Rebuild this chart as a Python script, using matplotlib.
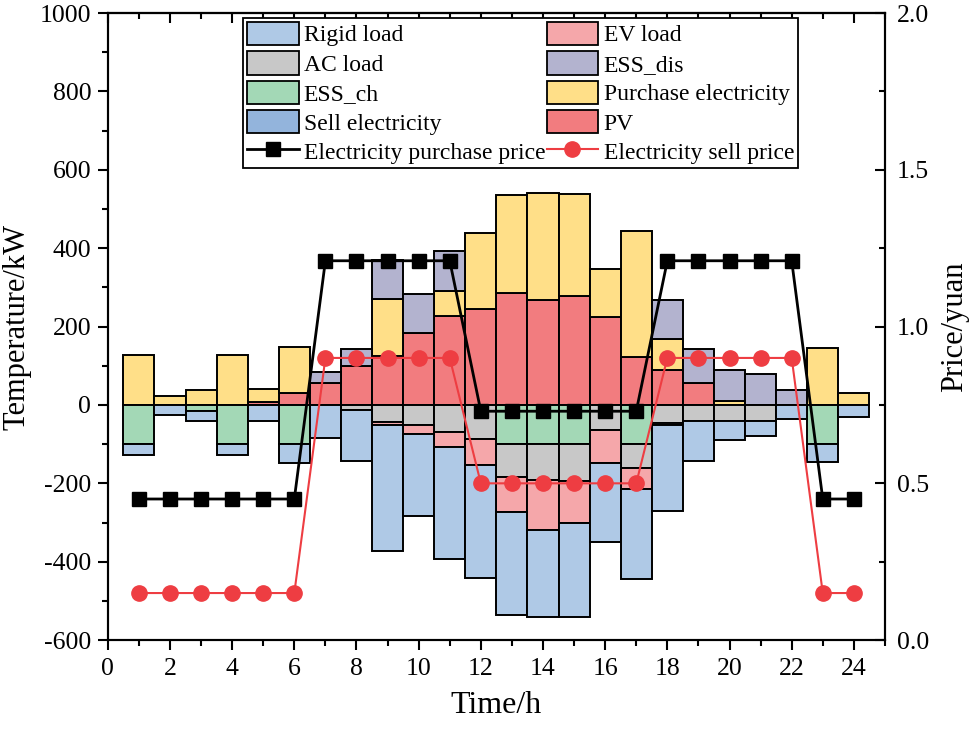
import matplotlib
matplotlib.use("Agg")
import matplotlib.pyplot as plt
import numpy as np
from matplotlib.ticker import MultipleLocator, FormatStrFormatter
from matplotlib.patches import Patch
from matplotlib.lines import Line2D

plt.rcParams['font.family'] = ['Liberation Serif', 'DejaVu Serif']
plt.rcParams['axes.unicode_minus'] = False

hours = np.arange(1, 25)

# supply side (positive)
pv       = [0, 0, 0, 0, 8, 31, 56, 99, 126, 183, 226, 244, 285, 268, 279, 224, 122, 90, 56, 0, 0, 0, 0, 0]
purchase = [127, 24, 38, 127, 32, 116, 0, 0, 145, 0, 64, 194, 250, 272, 260, 124, 321, 79, 0, 11, 0, 0, 146, 30]
ess_dis  = [0, 0, 0, 0, 0, 0, 28, 43, 98, 101, 103, 0, 0, 0, 0, 0, 0, 100, 86, 77, 78, 37, 0, 0]

# demand side (negative)
ess_ch = [100, 0, 15, 100, 0, 100, 0, 0, 0, 0, 0, 0, 100, 100, 100, 0, 100, 0, 0, 0, 0, 0, 100, 0]
ac     = [0, 0, 0, 0, 0, 0, 0, 12, 44, 50, 70, 88, 83, 91, 93, 65, 60, 45, 41, 40, 40, 0, 0, 0]
ev     = [0, 0, 0, 0, 0, 0, 0, 0, 8, 23, 37, 66, 90, 128, 109, 83, 54, 6, 0, 0, 0, 0, 0, 0]
rigid  = [28, 25, 25, 28, 40, 48, 84, 131, 321, 211, 285, 287, 263, 222, 238, 202, 231, 220, 103, 50, 40, 37, 46, 30]
sell   = [0] * 24

buy_price  = [0.45] * 6 + [1.21] * 5 + [0.73] * 6 + [1.21] * 5 + [0.45] * 2
sell_price = [0.15] * 6 + [0.9] * 5 + [0.5] * 6 + [0.9] * 5 + [0.15] * 2

c_rigid = '#AFC9E6'
c_ac = '#C8C8C8'
c_essch = '#A3D8B6'
c_sell = '#93B4DC'
c_ev = '#F5A7AA'
c_essdis = '#B3B3CF'
c_buy = '#FFDF88'
c_pv = '#F27C7F'
c_red = '#EE3D42'

fig = plt.figure(figsize=(9.8, 7.29), dpi=100)
ax = fig.add_axes([0.110, 0.122, 0.793, 0.860])

bw = dict(width=1.0, edgecolor='black', linewidth=1.4)

# positive stack
bottom = np.zeros(24)
for vals, col in [(pv, c_pv), (purchase, c_buy), (ess_dis, c_essdis)]:
    v = np.array(vals, float)
    m = v > 0
    ax.bar(hours[m], v[m], bottom=bottom[m], color=col, **bw)
    bottom += v

# negative stack
bottom = np.zeros(24)
for vals, col in [(ess_ch, c_essch), (ac, c_ac), (ev, c_ev), (rigid, c_rigid), (sell, c_sell)]:
    v = -np.array(vals, float)
    m = v < 0
    ax.bar(hours[m], v[m], bottom=bottom[m], color=col, **bw)
    bottom += v

ax.set_xlim(0, 25)
ax.set_ylim(-600, 1000)
ax.set_xticks(np.arange(0, 25, 2))
ax.xaxis.set_minor_locator(MultipleLocator(1))
ax.set_yticks(np.arange(-600, 1001, 200))
ax.yaxis.set_minor_locator(MultipleLocator(100))
ax.tick_params(which='both', direction='out', labelsize=18.5, width=1.5)
ax.tick_params(which='major', length=7)
ax.tick_params(which='minor', length=4)
ax.tick_params(axis='x', pad=6)
ax.tick_params(axis='y', pad=5)
ax.set_xlabel('Time/h', fontsize=23, labelpad=8)
ax.set_ylabel('Temperature/kW', fontsize=22, labelpad=6)
for s in ax.spines.values():
    s.set_linewidth(1.5)

top = ax.secondary_xaxis('top')
top.set_xticks(np.arange(0, 25, 2))
top.xaxis.set_minor_locator(MultipleLocator(1))
top.tick_params(which='both', direction='in', labeltop=False, width=1.5)
top.tick_params(which='major', length=7)
top.tick_params(which='minor', length=4)
top.spines['top'].set_linewidth(1.5)

ax2 = ax.twinx()
ax2.plot(hours, buy_price, color='black', lw=2, marker='s', ms=9.5)
ax2.plot(hours, sell_price, color=c_red, lw=1.5, marker='o', ms=11,
         markeredgecolor=c_red)
ax2.set_ylim(0, 2.0)
ax2.yaxis.set_major_locator(MultipleLocator(0.5))
ax2.yaxis.set_minor_locator(MultipleLocator(0.25))
ax2.yaxis.set_major_formatter(FormatStrFormatter('%.1f'))
ax2.tick_params(which='both', direction='in', labelsize=18.5, width=1.5, pad=8.5)
ax2.tick_params(which='major', length=7)
ax2.tick_params(which='minor', length=4)
ax2.set_ylabel('Price/yuan', fontsize=22, labelpad=8)
for s in ax2.spines.values():
    s.set_linewidth(1.5)

def box(c):
    return Patch(facecolor=c, edgecolor='black', linewidth=1.3)

handles = [box(c_rigid), box(c_ac), box(c_essch), box(c_sell),
           Line2D([], [], color='black', lw=2, marker='s', ms=9.5),
           box(c_ev), box(c_essdis), box(c_buy), box(c_pv),
           Line2D([], [], color=c_red, lw=1.5, marker='o', ms=11)]
labels = ['Rigid load', 'AC load', 'ESS_ch', 'Sell electricity',
          'Electricity purchase price', 'EV load', 'ESS_dis',
          'Purchase electricity', 'PV', 'Electricity sell price']
leg = ax2.legend(handles, labels, ncol=2, loc='upper left',
                 bbox_to_anchor=(0.174, 0.992), fontsize=17, frameon=True,
                 fancybox=False, edgecolor='black', framealpha=1,
                 handlelength=2.2, handleheight=1.15, handletextpad=0.22,
                 labelspacing=0.2, columnspacing=0.05, borderpad=0.15,
                 borderaxespad=0)
leg.get_frame().set_linewidth(1.3)

fig.savefig('out.png', dpi=100)
